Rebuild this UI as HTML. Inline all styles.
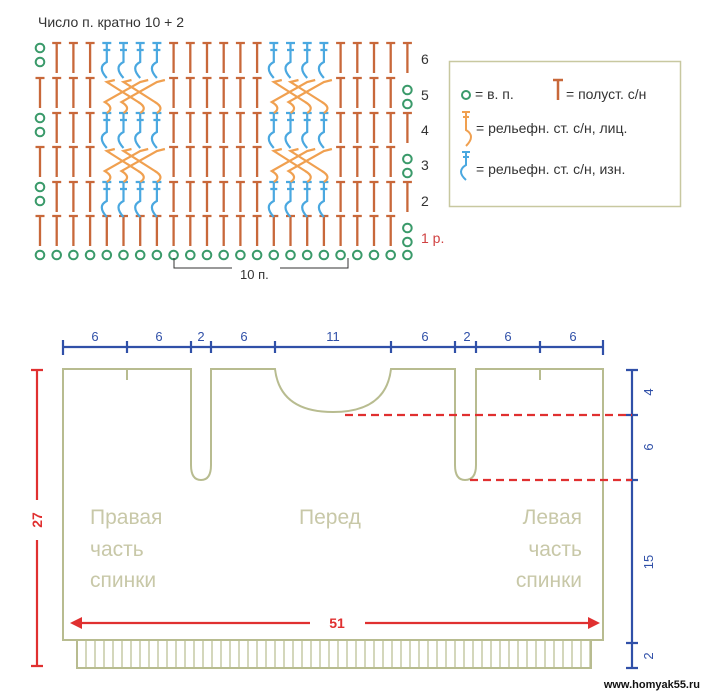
<!DOCTYPE html>
<html><head><meta charset="utf-8"><style>
html,body{margin:0;padding:0;background:#fff;}
body{width:703px;height:693px;overflow:hidden;position:relative;font-family:"Liberation Sans",sans-serif;}
svg{position:absolute;left:0;top:0;}
</style></head><body>
<svg id="s" width="703" height="693" viewBox="0 0 703 693" xmlns="http://www.w3.org/2000/svg">
<g id="chart"></g>
<text x="38" y="27" font-size="14" fill="#333" font-family="Liberation Sans, sans-serif">Число п. кратно 10 + 2</text>
<g font-size="14" fill="#333" font-family="Liberation Sans, sans-serif">
<text x="421" y="64">6</text><text x="421" y="100">5</text><text x="421" y="135">4</text>
<text x="421" y="170">3</text><text x="421" y="206">2</text>
<text x="421" y="243" fill="#d04040">1 р.</text>
<text x="240" y="279" font-size="13">10 п.</text>
</g>
<path d="M174 258 V268 H232 M280 268 H348 V258" stroke="#333" stroke-width="1" fill="none"/>
<rect x="449.5" y="61.5" width="231" height="145" fill="#fff" stroke="#c8c8a0" stroke-width="1.5"/>
<circle cx="466" cy="95" r="4" fill="none" stroke="#3a9a6a" stroke-width="2"/>
<path d="M553 80 H563 M558 80 V100" stroke="#c8683a" stroke-width="2.5"/>
<path d="M462 112 H470 M463 117 H469 M466 112 V130 Q476 136 466 146" stroke="#f0a050" stroke-width="2" fill="none"/>
<path d="M462 152 H470 M463 157 H469 M466 152 V165 Q456 171 466 180" stroke="#4aa8e0" stroke-width="2" fill="none"/>
<g font-size="14" fill="#333" font-family="Liberation Sans, sans-serif">
<text x="475" y="99">= в. п.</text><text x="566" y="99">= полуст. с/н</text>
<text x="476" y="133">= рельефн. ст. с/н, лиц.</text>
<text x="476" y="174">= рельефн. ст. с/н, изн.</text>
</g>
<g stroke="#3050a8" stroke-width="2.2" fill="none">
<path d="M63 347 H603"/>
<path d="M63 340V355 M127 341V353 M191 341V353 M211 341V353 M275 341V353 M391 341V353 M455 341V353 M476 341V353 M540 341V353 M603 340V355"/>
<path d="M632 370 V668 M626 370H638 M626 415H638 M626 480H638 M626 643H638 M626 668H638"/>
</g>
<g font-size="13" fill="#3050a8" font-family="Liberation Sans, sans-serif" text-anchor="middle">
<text x="95" y="341">6</text><text x="159" y="341">6</text><text x="201" y="341">2</text><text x="244" y="341">6</text>
<text x="333" y="341">11</text><text x="425" y="341">6</text><text x="467" y="341">2</text><text x="508" y="341">6</text><text x="573" y="341">6</text>
<text transform="translate(653,392) rotate(-90)">4</text>
<text transform="translate(653,447) rotate(-90)">6</text>
<text transform="translate(653,562) rotate(-90)">15</text>
<text transform="translate(653,656) rotate(-90)">2</text>
</g>
<g stroke="#b8bc90" stroke-width="2" fill="none">
<path d="M63 369 H191 V465 Q191 480 201 480 Q211 480 211 465 V369 H275 Q280 412 333 412 Q386 412 391 369 H455 V465 Q455 480 465 480 Q476 480 476 465 V369 H603 V640 H63 Z"/>
<path d="M127 369 V380 M540 369 V380"/>
<path d="M77 640 V668 H591 V640"/>
</g>
<g id="ribl" stroke="#b8bc90" stroke-width="1.2"></g>
<g stroke="#e03030" stroke-width="2.2" fill="none">
<path d="M345 415 H632 M470 480 H632" stroke-dasharray="8,5"/>
<path d="M37 370 V500 M37 540 V666 M31 370 H43 M31 666 H43"/>
<path d="M75 623 H310 M365 623 H595"/>
</g>
<path d="M70 623 L82 617 L82 629 Z M600 623 L588 617 L588 629 Z" fill="#e03030"/>
<text transform="translate(42,520) rotate(-90)" font-size="14" font-weight="bold" fill="#e03030" text-anchor="middle" font-family="Liberation Sans, sans-serif">27</text>
<text x="337" y="628" font-size="14" font-weight="bold" fill="#e03030" text-anchor="middle" font-family="Liberation Sans, sans-serif">51</text>
<g font-size="21" fill="#c8c8a8" font-family="Liberation Sans Narrow, Liberation Sans, sans-serif">
<text x="90" y="524">Правая</text><text x="90" y="556">часть</text><text x="90" y="587">спинки</text>
<text x="299" y="524">Перед</text>
<text x="582" y="524" text-anchor="end">Левая</text><text x="582" y="556" text-anchor="end">часть</text><text x="582" y="587" text-anchor="end">спинки</text>
</g>
<text x="700" y="688" font-size="11" font-weight="bold" fill="#111" text-anchor="end" font-family="Liberation Sans, sans-serif">www.homyak55.ru</text>
</svg>
<script>
var NS="http://www.w3.org/2000/svg";
function el(p,t,a){var e=document.createElementNS(NS,t);for(var k in a)e.setAttribute(k,a[k]);p.appendChild(e);return e;}
var g=document.getElementById("chart");
var cx=function(k){return 40+16.7*k;};
var tops=[216,182,147,113,78,43];
var OR="#c8683a",BL="#4aa8e0",CR="#f0a050",GR="#3a9a6a";
function circ(x,y){el(g,"circle",{cx:x,cy:y,r:4.3,fill:"none",stroke:GR,"stroke-width":2});}
for(var k=0;k<23;k++)circ(cx(k),255);
var cable=[4,5,6,7,14,15,16,17];
for(var r=0;r<6;r++){
 var y=tops[r],row=r+1,even=row%2==0;
 if(even){circ(cx(0),y+5);circ(cx(0),y+19);}else{circ(cx(22),y+12);circ(cx(22),y+26);}
 var from=even?1:0,to=even?22:21;
 for(var k=from;k<=to;k++){
  var x=cx(k),isC=cable.indexOf(k)>=0;
  if(even&&isC){
   el(g,"path",{d:"M"+(x-4.5)+" "+y+"H"+(x+4.5)+"M"+(x-3.5)+" "+(y+7)+"H"+(x+3.5)+"M"+x+" "+y+"V"+(y+19)+"Q"+(x-10)+" "+(y+24)+" "+x+" "+(y+35),stroke:BL,"stroke-width":2.2,fill:"none"});
  } else if(!even&&isC&&row>1){
   var base=k<10?4:14,i=k-base,t=base+((i+2)%4);
   var x2=cx(t);
   el(g,"path",{d:"M"+(x+8)+" "+(y+2)+"L"+x+" "+(y+4)+"L"+(x2-2)+" "+(y+24)+"Q"+(x2+8)+" "+(y+30)+" "+x2+" "+(y+35),stroke:CR,"stroke-width":2.2,fill:"none"});
  } else {
   el(g,"path",{d:"M"+(x-4.5)+" "+y+"H"+(x+4.5)+"M"+x+" "+y+"V"+(y+30),stroke:OR,"stroke-width":2.3,fill:"none"});
  }
 }
}
var rl=document.getElementById("ribl");
for(var x=86;x<591;x+=9)el(rl,"path",{d:"M"+x+" 640V668"});
</script>
</body></html>
